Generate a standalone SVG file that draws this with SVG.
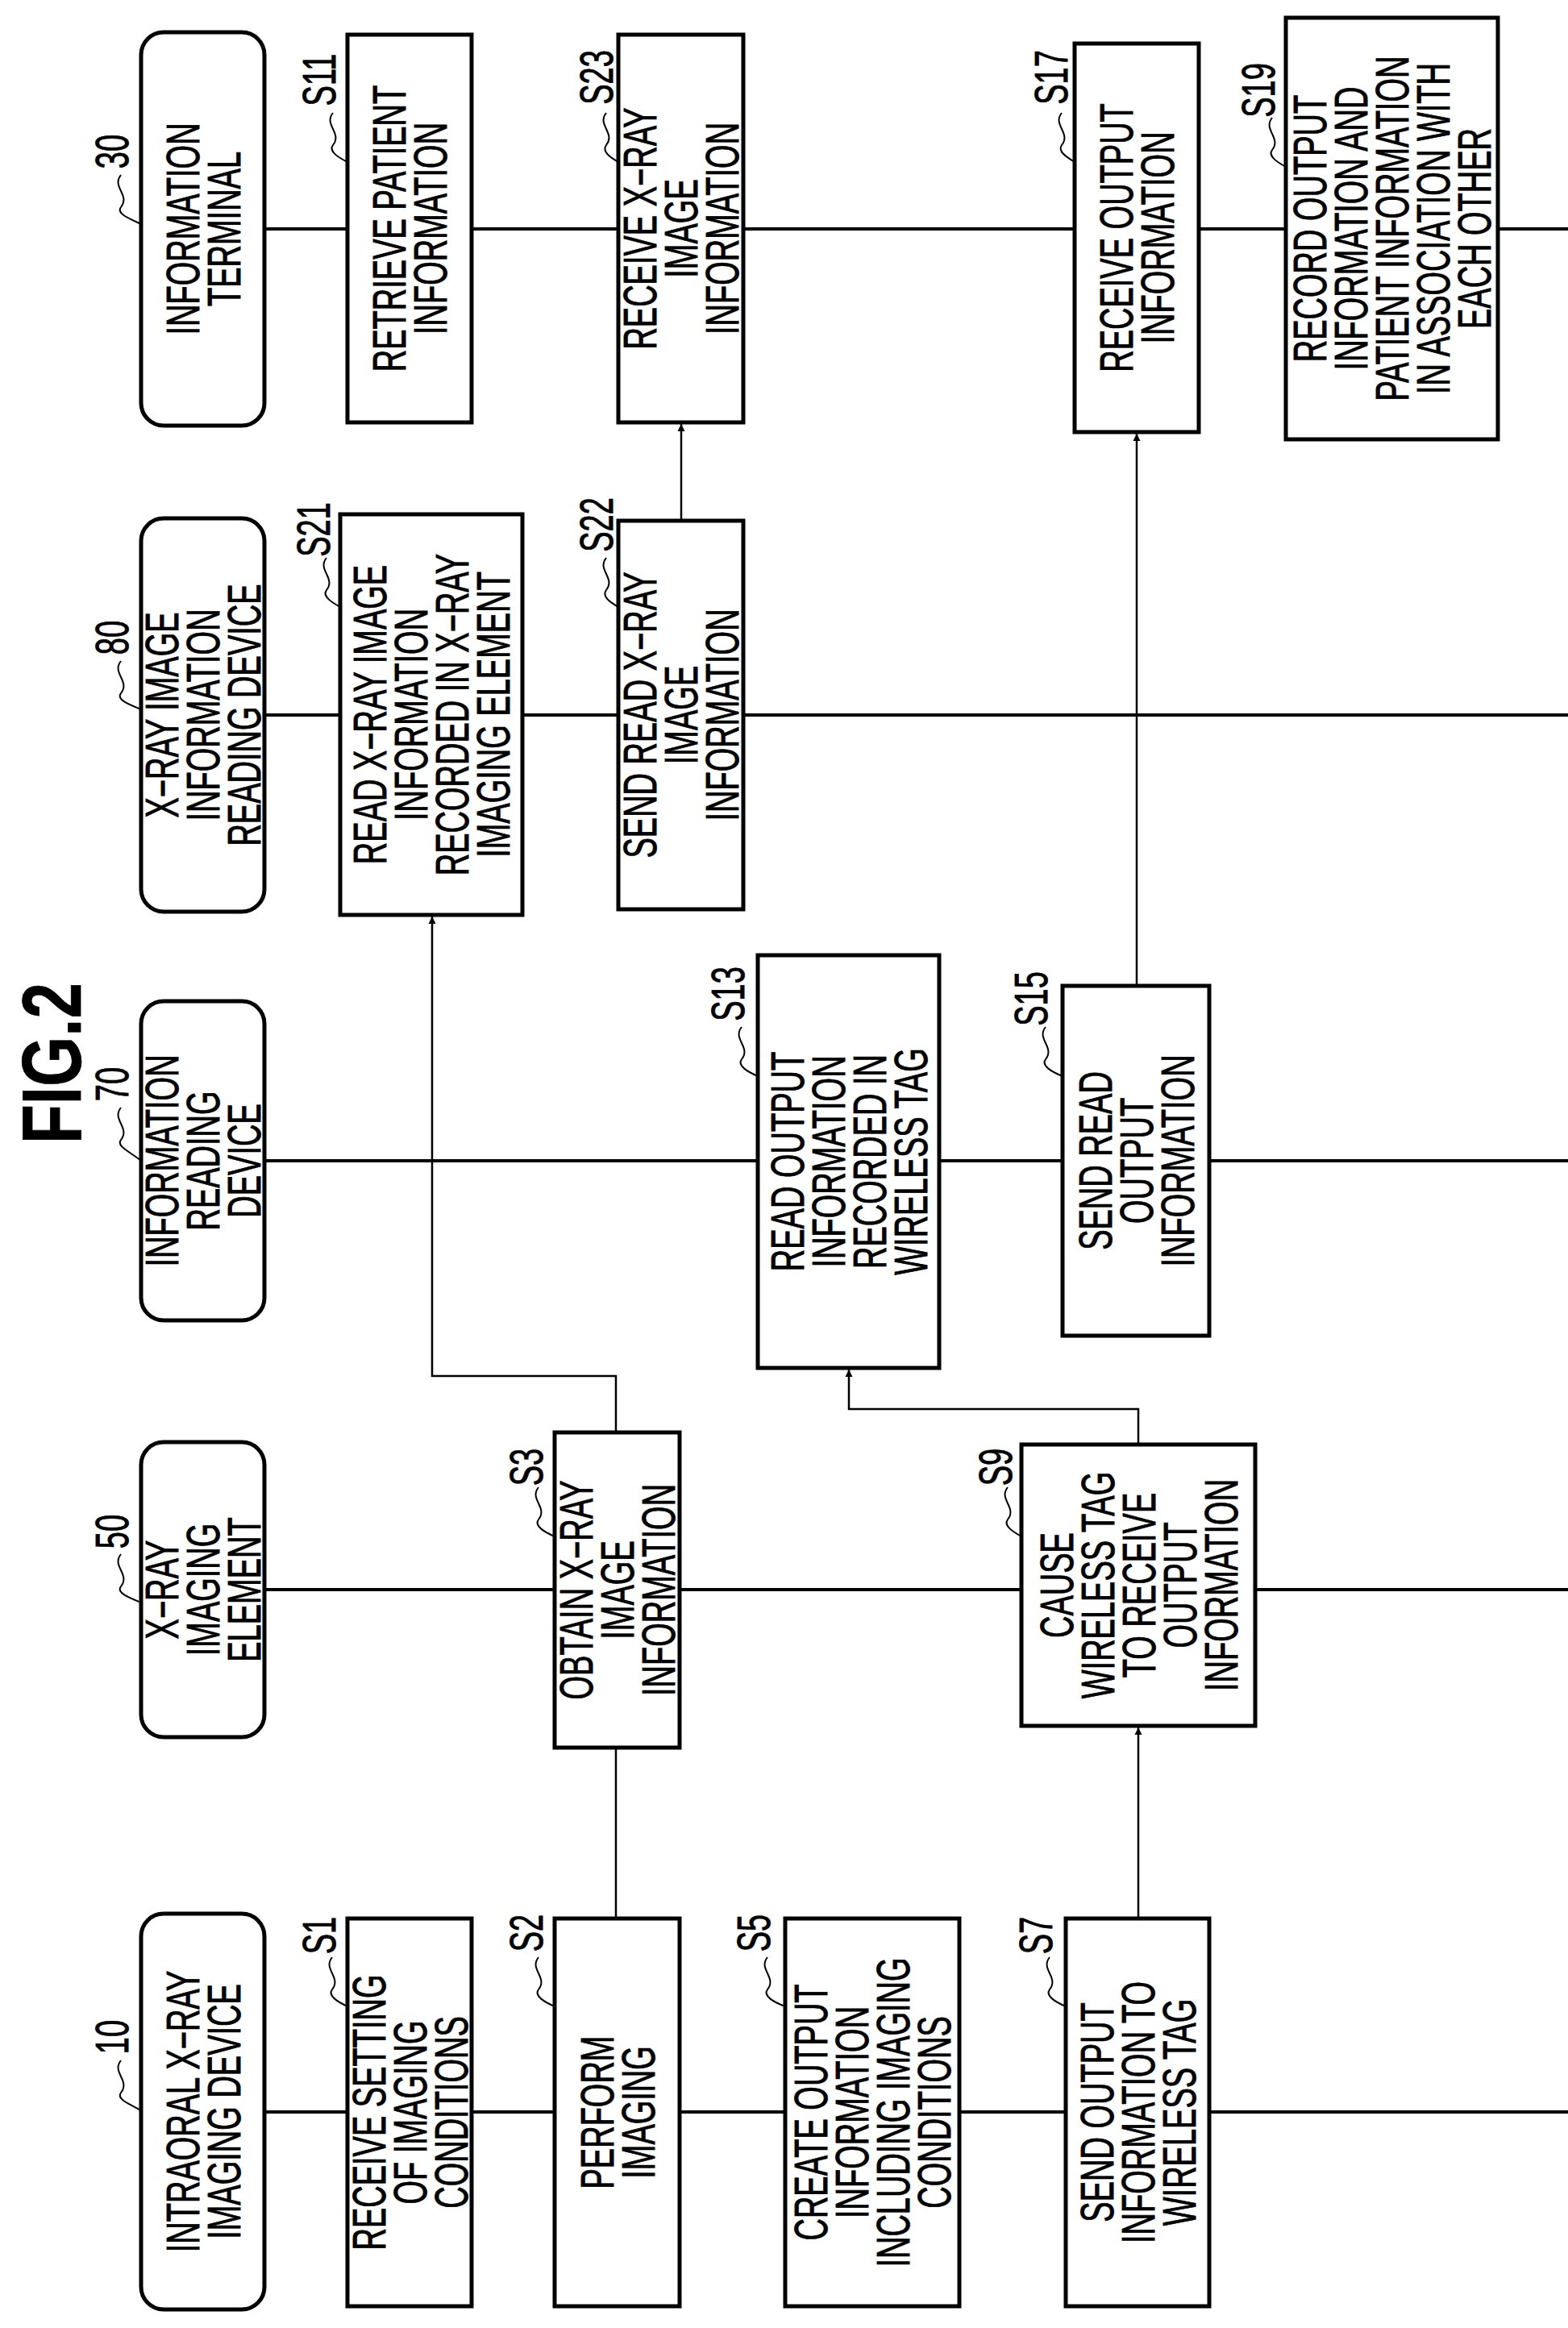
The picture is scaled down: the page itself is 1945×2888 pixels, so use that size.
<svg xmlns="http://www.w3.org/2000/svg" width="1945" height="2888" viewBox="0 0 1945 2888">
<style>
.t{font-family:"Liberation Sans",Arial,sans-serif;font-size:38px;text-anchor:middle;fill:#000;stroke:#000;stroke-width:0.6}
.b{fill:#fff;stroke:#000;stroke-width:5}
.ln{fill:none;stroke:#000;stroke-width:4}
.c{fill:none;stroke:#000;stroke-width:2.5}
.ld{fill:none;stroke:#000;stroke-width:2}
</style>
<defs><marker id="ah" viewBox="0 0 10 10" refX="10" refY="5" markerWidth="9" markerHeight="12" orient="auto" markerUnits="userSpaceOnUse"><path d="M0,0 L10,5 L0,10 Z" fill="#000"/></marker></defs>
<rect width="1945" height="2888" fill="#fff"/>
<g id="title"><text class="t" style="font-size:80px;font-weight:bold" transform="translate(62,1319) rotate(-90) scale(1,1.3)" y="29">FIG.2</text></g>
<g id="lifelines">
<line class="ln" x1="328" y1="284" x2="1945" y2="284"/>
<line class="ln" x1="328" y1="887" x2="1945" y2="887"/>
<line class="ln" x1="328" y1="1440" x2="1945" y2="1440"/>
<line class="ln" x1="328" y1="1972" x2="1945" y2="1972"/>
<line class="ln" x1="328" y1="2620" x2="1945" y2="2620"/>
</g>
<g id="connectors">
<line class="c" x1="845" y1="646" x2="845" y2="526" marker-end="url(#ah)"/>
<line class="c" x1="1410" y1="1223" x2="1410" y2="538" marker-end="url(#ah)"/>
<path class="c" d="M764,1777 V1707 H536 V1137" marker-end="url(#ah)"/>
<path class="c" d="M1412,1792 V1748 H1053 V1699" marker-end="url(#ah)"/>
<line class="c" x1="764" y1="2380" x2="764" y2="2168"/>
<line class="c" x1="1412" y1="2380" x2="1412" y2="2143" marker-end="url(#ah)"/>
</g>
<g id="n30"><rect class="b" x="175" y="40" width="153" height="488" rx="28"/><text class="t" transform="translate(251.5,284) rotate(-90) scale(1,1.5)"><tspan x="0" y="-3.3">INFORMATION</tspan><tspan x="0" y="30.7">TERMINAL</tspan></text></g>
<g id="S11"><rect class="b" x="431" y="43" width="154" height="481"/><text class="t" transform="translate(508,283.5) rotate(-90) scale(1,1.5)"><tspan x="0" y="-3.3">RETRIEVE PATIENT</tspan><tspan x="0" y="30.7">INFORMATION</tspan></text></g>
<g id="S23"><rect class="b" x="767" y="43" width="155" height="481"/><text class="t" transform="translate(844.5,283.5) rotate(-90) scale(1,1.5)"><tspan x="0" y="-20.3">RECEIVE X−RAY</tspan><tspan x="0" y="13.7">IMAGE</tspan><tspan x="0" y="47.7">INFORMATION</tspan></text></g>
<g id="S17"><rect class="b" x="1333" y="54" width="154" height="482"/><text class="t" transform="translate(1410,295) rotate(-90) scale(1,1.5)"><tspan x="0" y="-3.3">RECEIVE OUTPUT</tspan><tspan x="0" y="30.7">INFORMATION</tspan></text></g>
<g id="S19"><rect class="b" x="1595" y="22" width="263" height="523"/><text class="t" transform="translate(1726.5,283.5) rotate(-90) scale(1,1.5)"><tspan x="0" y="-54.3">RECORD OUTPUT</tspan><tspan x="0" y="-20.3">INFORMATION AND</tspan><tspan x="0" y="13.7">PATIENT INFORMATION</tspan><tspan x="0" y="47.7">IN ASSOCIATION WITH</tspan><tspan x="0" y="81.7">EACH OTHER</tspan></text></g>
<g id="n80"><rect class="b" x="175" y="643" width="153" height="488" rx="28"/><text class="t" transform="translate(251.5,887) rotate(-90) scale(1,1.5)"><tspan x="0" y="-20.3">X−RAY IMAGE</tspan><tspan x="0" y="13.7">INFORMATION</tspan><tspan x="0" y="47.7">READING DEVICE</tspan></text></g>
<g id="S21"><rect class="b" x="422" y="638" width="226" height="497"/><text class="t" transform="translate(535,886.5) rotate(-90) scale(1,1.5)"><tspan x="0" y="-37.3">READ X−RAY IMAGE</tspan><tspan x="0" y="-3.3">INFORMATION</tspan><tspan x="0" y="30.7">RECORDED IN X−RAY</tspan><tspan x="0" y="64.7">IMAGING ELEMENT</tspan></text></g>
<g id="S22"><rect class="b" x="767" y="646" width="155" height="482"/><text class="t" transform="translate(844.5,887) rotate(-90) scale(1,1.5)"><tspan x="0" y="-20.3">SEND READ X−RAY</tspan><tspan x="0" y="13.7">IMAGE</tspan><tspan x="0" y="47.7">INFORMATION</tspan></text></g>
<g id="n70"><rect class="b" x="175" y="1242" width="153" height="396" rx="28"/><text class="t" transform="translate(251.5,1440) rotate(-90) scale(1,1.5)"><tspan x="0" y="-20.3">INFORMATION</tspan><tspan x="0" y="13.7">READING</tspan><tspan x="0" y="47.7">DEVICE</tspan></text></g>
<g id="S13"><rect class="b" x="940" y="1185" width="225" height="512"/><text class="t" transform="translate(1052.5,1441) rotate(-90) scale(1,1.5)"><tspan x="0" y="-37.3">READ OUTPUT</tspan><tspan x="0" y="-3.3">INFORMATION</tspan><tspan x="0" y="30.7">RECORDED IN</tspan><tspan x="0" y="64.7">WIRELESS TAG</tspan></text></g>
<g id="S15"><rect class="b" x="1318" y="1223" width="182" height="434"/><text class="t" transform="translate(1409,1440) rotate(-90) scale(1,1.5)"><tspan x="0" y="-20.3">SEND READ</tspan><tspan x="0" y="13.7">OUTPUT</tspan><tspan x="0" y="47.7">INFORMATION</tspan></text></g>
<g id="n50"><rect class="b" x="175" y="1789" width="153" height="366" rx="28"/><text class="t" transform="translate(251.5,1972) rotate(-90) scale(1,1.5)"><tspan x="0" y="-20.3">X−RAY</tspan><tspan x="0" y="13.7">IMAGING</tspan><tspan x="0" y="47.7">ELEMENT</tspan></text></g>
<g id="S3"><rect class="b" x="688" y="1777" width="155" height="391"/><text class="t" transform="translate(765.5,1972.5) rotate(-90) scale(1,1.5)"><tspan x="0" y="-20.3">OBTAIN X−RAY</tspan><tspan x="0" y="13.7">IMAGE</tspan><tspan x="0" y="47.7">INFORMATION</tspan></text></g>
<g id="S9"><rect class="b" x="1267" y="1792" width="290" height="349"/><text class="t" transform="translate(1412,1966.5) rotate(-90) scale(1,1.5)"><tspan x="0" y="-54.3">CAUSE</tspan><tspan x="0" y="-20.3">WIRELESS TAG</tspan><tspan x="0" y="13.7">TO RECEIVE</tspan><tspan x="0" y="47.7">OUTPUT</tspan><tspan x="0" y="81.7">INFORMATION</tspan></text></g>
<g id="n10"><rect class="b" x="175" y="2374" width="153" height="491" rx="28"/><text class="t" transform="translate(251.5,2619.5) rotate(-90) scale(1,1.5)"><tspan x="0" y="-3.3">INTRAORAL X−RAY</tspan><tspan x="0" y="30.7">IMAGING DEVICE</tspan></text></g>
<g id="S1"><rect class="b" x="431" y="2380" width="154" height="481"/><text class="t" transform="translate(508,2620.5) rotate(-90) scale(1,1.5)"><tspan x="0" y="-20.3">RECEIVE SETTING</tspan><tspan x="0" y="13.7">OF IMAGING</tspan><tspan x="0" y="47.7">CONDITIONS</tspan></text></g>
<g id="S2"><rect class="b" x="688" y="2380" width="155" height="481"/><text class="t" transform="translate(765.5,2620.5) rotate(-90) scale(1,1.5)"><tspan x="0" y="-3.3">PERFORM</tspan><tspan x="0" y="30.7">IMAGING</tspan></text></g>
<g id="S5"><rect class="b" x="974" y="2380" width="216" height="481"/><text class="t" transform="translate(1082,2620.5) rotate(-90) scale(1,1.5)"><tspan x="0" y="-37.3">CREATE OUTPUT</tspan><tspan x="0" y="-3.3">INFORMATION</tspan><tspan x="0" y="30.7">INCLUDING IMAGING</tspan><tspan x="0" y="64.7">CONDITIONS</tspan></text></g>
<g id="S7"><rect class="b" x="1322" y="2380" width="178" height="481"/><text class="t" transform="translate(1411,2620.5) rotate(-90) scale(1,1.5)"><tspan x="0" y="-20.3">SEND OUTPUT</tspan><tspan x="0" y="13.7">INFORMATION TO</tspan><tspan x="0" y="47.7">WIRELESS TAG</tspan></text></g>
<g id="labels">
<text class="t" transform="translate(138,188) rotate(-90) scale(1,1.5)" y="13.7">30</text>
<path class="ld" d="M150,217 c-12,15 12,25 0,40 c-6,8 10,14 25,21"/>
<text class="t" transform="translate(395,99) rotate(-90) scale(1,1.5)" y="13.7">S11</text>
<path class="ld" d="M413,140 c-12,15 12,25 0,40 c-6,8 8,16 18,21"/>
<text class="t" transform="translate(739,96) rotate(-90) scale(1,1.5)" y="13.7">S23</text>
<path class="ld" d="M752,140 c-12,15 12,25 0,40 c-6,8 6,16 15,21"/>
<text class="t" transform="translate(1303,96) rotate(-90) scale(1,1.5)" y="13.7">S17</text>
<path class="ld" d="M1317,140 c-12,15 12,25 0,40 c-6,8 8,16 16,21"/>
<text class="t" transform="translate(1560,112) rotate(-90) scale(1,1.5)" y="13.7">S19</text>
<path class="ld" d="M1578,146 c-12,15 12,25 0,40 c-6,8 8,16 17,21"/>
<text class="t" transform="translate(138,791) rotate(-90) scale(1,1.5)" y="13.7">80</text>
<path class="ld" d="M150,820 c-12,15 12,25 0,40 c-6,8 10,14 25,20"/>
<text class="t" transform="translate(388,657) rotate(-90) scale(1,1.5)" y="13.7">S21</text>
<path class="ld" d="M405,692 c-12,15 12,25 0,40 c-6,8 8,16 17,21"/>
<text class="t" transform="translate(739,651) rotate(-90) scale(1,1.5)" y="13.7">S22</text>
<path class="ld" d="M752,692 c-12,15 12,25 0,40 c-6,8 6,16 15,21"/>
<text class="t" transform="translate(138,1345) rotate(-90) scale(1,1.5)" y="13.7">70</text>
<path class="ld" d="M150,1374 c-12,15 12,25 0,40 c-6,8 10,14 25,26"/>
<text class="t" transform="translate(902,1233) rotate(-90) scale(1,1.5)" y="13.7">S13</text>
<path class="ld" d="M920,1274 c-12,15 12,25 0,40 c-6,8 8,16 20,21"/>
<text class="t" transform="translate(1278,1239) rotate(-90) scale(1,1.5)" y="13.7">S15</text>
<path class="ld" d="M1297,1274 c-12,15 12,25 0,40 c-6,8 8,16 21,21"/>
<text class="t" transform="translate(138,1900) rotate(-90) scale(1,1.5)" y="13.7">50</text>
<path class="ld" d="M150,1928 c-12,15 12,25 0,40 c-6,8 10,14 25,20"/>
<text class="t" transform="translate(652,1820) rotate(-90) scale(1,1.5)" y="13.7">S3</text>
<path class="ld" d="M668,1845 c-12,15 12,25 0,40 c-6,8 8,16 20,21"/>
<text class="t" transform="translate(1234,1820) rotate(-90) scale(1,1.5)" y="13.7">S9</text>
<path class="ld" d="M1250,1845 c-12,15 12,25 0,40 c-6,8 8,16 17,21"/>
<text class="t" transform="translate(138,2527) rotate(-90) scale(1,1.5)" y="13.7">10</text>
<path class="ld" d="M150,2556 c-12,15 12,25 0,40 c-6,8 10,14 25,22"/>
<text class="t" transform="translate(395,2401) rotate(-90) scale(1,1.5)" y="13.7">S1</text>
<path class="ld" d="M412,2428 c-12,15 12,25 0,40 c-6,8 8,16 19,21"/>
<text class="t" transform="translate(652,2398) rotate(-90) scale(1,1.5)" y="13.7">S2</text>
<path class="ld" d="M668,2428 c-12,15 12,25 0,40 c-6,8 8,16 20,21"/>
<text class="t" transform="translate(934,2398) rotate(-90) scale(1,1.5)" y="13.7">S5</text>
<path class="ld" d="M952,2428 c-12,15 12,25 0,40 c-6,8 8,16 22,21"/>
<text class="t" transform="translate(1284,2401) rotate(-90) scale(1,1.5)" y="13.7">S7</text>
<path class="ld" d="M1302,2428 c-12,15 12,25 0,40 c-6,8 8,16 20,21"/>
</g>
</svg>
